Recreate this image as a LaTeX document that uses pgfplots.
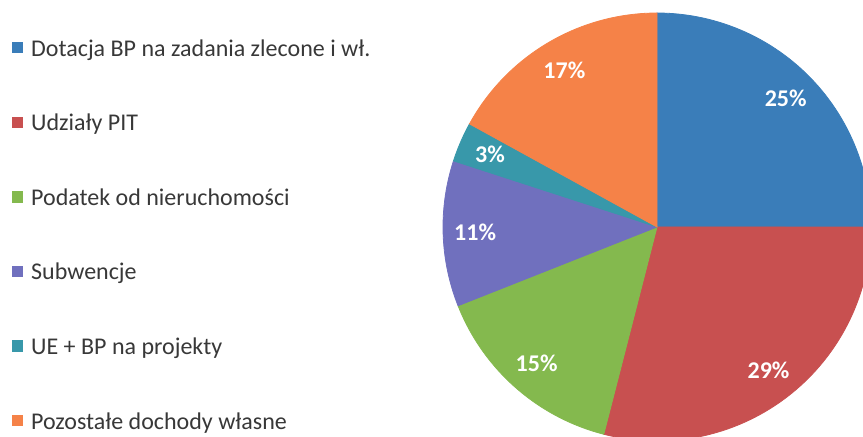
\documentclass[border=0pt]{standalone}
\usepackage{pgfplots}
\usepackage{pgfplotstable}
\pgfplotsset{compat=1.18}
\usepackage{fontspec}
\setmainfont{Carlito}

\definecolor{cBlue}{RGB}{58,125,185}
\definecolor{cRed}{RGB}{200,80,80}
\definecolor{cGreen}{RGB}{132,185,78}
\definecolor{cPurple}{RGB}{112,112,190}
\definecolor{cTeal}{RGB}{56,152,170}
\definecolor{cOrange}{RGB}{245,130,72}

\pgfplotstableread{
value
25
29
15
11
3
17
}\piedata
\pgfplotstablecreatecol[create col/expr accum={\pgfmathaccuma+\thisrow{value}}{0}]{cum}\piedata

\newcommand\defwedge[2]{%
  \pgfplotstablegetelem{#1}{value}\of\piedata\let\wval\pgfplotsretval
  \pgfplotstablegetelem{#1}{cum}\of\piedata\let\wcum\pgfplotsretval
  \pgfmathsetmacro\tmpS{90-3.6*\wcum}%
  \pgfmathsetmacro\tmpE{90-3.6*(\wcum-\wval)}%
  \pgfmathsetmacro\tmpM{(\tmpS+\tmpE)/2}%
  \pgfmathsetmacro\tmpX{657+182*cos(\tmpM)}%
  \pgfmathsetmacro\tmpY{210+182*sin(\tmpM)}%
  \expandafter\xdef\csname wlo#2\endcsname{\tmpS}%
  \expandafter\xdef\csname whi#2\endcsname{\tmpE}%
  \expandafter\xdef\csname wx#2\endcsname{\tmpX}%
  \expandafter\xdef\csname wy#2\endcsname{\tmpY}%
  \expandafter\xdef\csname wv#2\endcsname{\wval}%
}
\defwedge{0}{A}\defwedge{1}{B}\defwedge{2}{C}\defwedge{3}{D}\defwedge{4}{E}\defwedge{5}{F}

\tikzset{pielabel/.style={font=\bfseries\fontsize{12}{14}\selectfont, text=white, inner sep=0pt}}

\begin{document}
\begin{tikzpicture}
\begin{axis}[
  width=431.5pt, height=218.5pt, scale only axis,
  xmin=0, xmax=863, ymin=0, ymax=437,
  hide axis, clip=true,
  legend style={draw=none, fill=none, at={(axis description cs:0.0139,0.913)}, anchor=north west,
    inner sep=0pt, outer sep=0pt, row sep=25.3pt, column sep=4pt,
    font=\fontsize{12}{14}\selectfont, text=black!78, cells={anchor=base west},
    nodes={inner sep=0pt, text height=9pt, text depth=3pt}},
  legend image code/.code={\fill[#1] (0pt,1.65pt) rectangle (5.2pt,6.85pt);},
]
\addplot[fill=cBlue, draw=cBlue, domain=\wloA:\whiA, samples=60, variable=\t] ({657+214*cos(\t)},{210+214*sin(\t)}) -- (axis cs:657,210) -- cycle;
\addlegendentry{Dotacja BP na zadania zlecone i wł.}
\addplot[fill=cRed, draw=cRed, domain=\wloB:\whiB, samples=60, variable=\t] ({657+214*cos(\t)},{210+214*sin(\t)}) -- (axis cs:657,210) -- cycle;
\addlegendentry{Udziały PIT}
\addplot[fill=cGreen, draw=cGreen, domain=\wloC:\whiC, samples=40, variable=\t] ({657+214*cos(\t)},{210+214*sin(\t)}) -- (axis cs:657,210) -- cycle;
\addlegendentry{Podatek od nieruchomości}
\addplot[fill=cPurple, draw=cPurple, domain=\wloD:\whiD, samples=30, variable=\t] ({657+214*cos(\t)},{210+214*sin(\t)}) -- (axis cs:657,210) -- cycle;
\addlegendentry{Subwencje}
\addplot[fill=cTeal, draw=cTeal, domain=\wloE:\whiE, samples=15, variable=\t] ({657+214*cos(\t)},{210+214*sin(\t)}) -- (axis cs:657,210) -- cycle;
\addlegendentry{UE + BP na projekty}
\addplot[fill=cOrange, draw=cOrange, domain=\wloF:\whiF, samples=40, variable=\t] ({657+214*cos(\t)},{210+214*sin(\t)}) -- (axis cs:657,210) -- cycle;
\addlegendentry{Pozostałe dochody własne}
\node[pielabel] at (axis cs:\wxA,\wyA) {\wvA\%};
\node[pielabel] at (axis cs:\wxB,\wyB) {\wvB\%};
\node[pielabel] at (axis cs:\wxC,\wyC) {\wvC\%};
\node[pielabel] at (axis cs:\wxD,\wyD) {\wvD\%};
\node[pielabel] at (axis cs:\wxE,\wyE) {\wvE\%};
\node[pielabel] at (axis cs:\wxF,\wyF) {\wvF\%};
\end{axis}
\pgfresetboundingbox
\useasboundingbox (current axis.south west) rectangle (current axis.north east);
\end{tikzpicture}
\end{document}
